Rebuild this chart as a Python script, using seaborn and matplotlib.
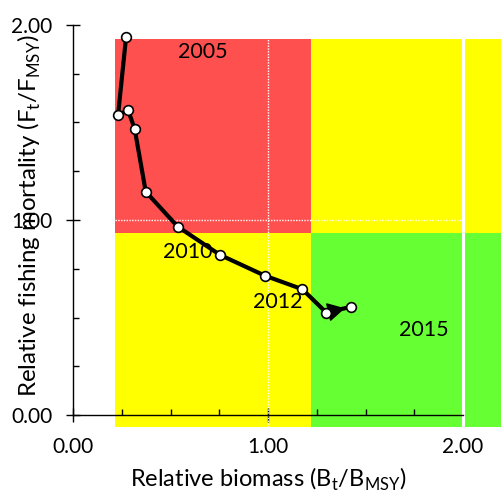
import numpy as np
import pandas as pd
import seaborn as sns
import matplotlib.pyplot as plt
from matplotlib.ticker import FixedLocator, FormatStrFormatter

# trajectory, one point per year
years = list(range(2005, 2016))
biomass = [0.272, 0.231, 0.282, 0.316, 0.373, 0.537, 0.754, 0.985, 1.176, 1.299, 1.426]
fishing = [1.937, 1.538, 1.564, 1.468, 1.145, 0.966, 0.821, 0.714, 0.645, 0.525, 0.555]

# year labels written on the chart
label_text = ["2005", "2010", "2012", "2015"]
label_x = [0.667, 0.59, 1.05, 1.797]
label_y = [1.86, 0.836, 0.58, 0.438]

# background zones (status quadrants)
zone_x = [0.215, 1.22, 2.3]
zone_y = [-0.06, 0.933, 1.928]
zone_colors = [["#ffff00", "#66ff33"],
               ["#ff5050", "#ffff00"]]

df = pd.DataFrame({"year": years, "B": biomass, "F": fishing})

sns.set_style("ticks")
plt.rcParams["font.family"] = ["Lato", "DejaVu Sans"]
plt.rcParams["text.color"] = "black"
plt.rcParams["axes.labelcolor"] = "black"
plt.rcParams["xtick.color"] = "black"
plt.rcParams["ytick.color"] = "black"
plt.rcParams["axes.edgecolor"] = "black"

fig = plt.figure(figsize=(5.02, 4.95), dpi=100)
ax = fig.add_axes([0.1066, 0.1222, 0.8934, 0.8667])
ax.set_xlim(-0.1, 2.2)
ax.set_ylim(-0.1, 2.1)

for i in range(2):
    for j in range(2):
        ax.fill_between([zone_x[j], zone_x[j + 1]], zone_y[i], zone_y[i + 1],
                        color=zone_colors[i][j], lw=0, zorder=0)

# reference lines
ax.plot([1, 1], [zone_y[0], zone_y[2]], color="white", lw=1, ls=(0, (1, 1)), zorder=1)
ax.plot([zone_x[0], 2.0], [1, 1], color="white", lw=1, ls=(0, (1, 1)), zorder=1)
ax.plot([2, 2], [zone_y[0], zone_y[2]], color="white", lw=2.2, zorder=1)

sns.lineplot(data=df, x="B", y="F", sort=False, color="black", lw=3,
             marker="o", ms=7, mfc="white", mec="black", mew=1.2, ax=ax, zorder=3)

ax.annotate("", xy=(biomass[-1], fishing[-1]), xytext=(biomass[-2], fishing[-2]),
            arrowprops=dict(arrowstyle="-|>,head_length=0.55,head_width=0.3",
                            mutation_scale=20, color="black", lw=1,
                            shrinkA=4, shrinkB=4.5), zorder=2.5)

for t, x, y in zip(label_text, label_x, label_y):
    ax.text(x, y, t, fontsize=15.5, ha="center", va="center", zorder=4)

# axes in the style of R base graphics
for s in ["top", "right"]:
    ax.spines[s].set_visible(False)
ax.spines["left"].set_position(("data", 0))
ax.spines["bottom"].set_position(("data", 0))
ax.spines["left"].set_bounds(0, 2)
ax.spines["bottom"].set_bounds(0, 2)
ax.spines["left"].set_linewidth(1)
ax.spines["bottom"].set_linewidth(1)

major = [0, 1, 2]
minor = [0.25, 0.5, 0.75, 1.25, 1.5, 1.75]
for axis in [ax.xaxis, ax.yaxis]:
    axis.set_major_locator(FixedLocator(major))
    axis.set_minor_locator(FixedLocator(minor))
    axis.set_major_formatter(FormatStrFormatter("%.2f"))
ax.tick_params(which="major", direction="inout", length=9.5, width=1, labelsize=15)
ax.tick_params(axis="x", which="major", pad=11)
ax.tick_params(axis="y", which="major", pad=10)
ax.tick_params(which="minor", direction="in", length=4.5, width=1)

ax.set_xlabel(r"Relative biomass (B$_\mathregular{t}$/B$_\mathregular{MSY}$)", fontsize=17)
ax.set_ylabel(r"Relative fishing mortality (F$_\mathregular{t}$/F$_\mathregular{MSY}$)", fontsize=17.3)
ax.xaxis.set_label_coords(0.478, -0.073)
ax.yaxis.set_label_coords(-0.0234, 0.509)

fig.savefig("out.png", dpi=100)
